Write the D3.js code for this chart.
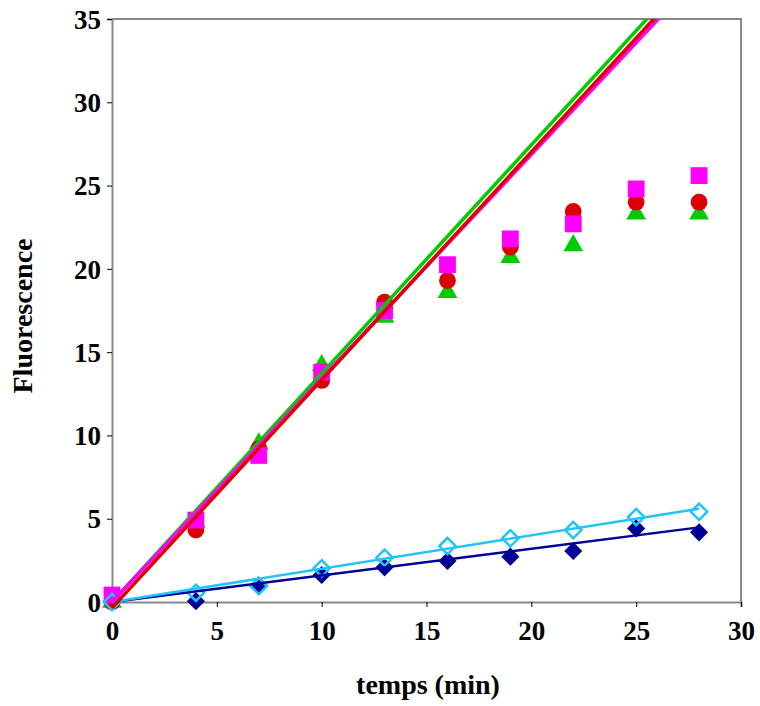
<!DOCTYPE html>
<html>
<head>
<meta charset="utf-8">
<script src="https://cdn.jsdelivr.net/npm/d3@7/dist/d3.min.js"></script>
<style>
  body { margin: 0; background: #fff; }
  svg { display: block; }
  .tick text { font-family: "Liberation Serif", "Times New Roman", serif; font-weight: bold; }
</style>
</head>
<body>
<svg width="760" height="706"></svg>
<script>
// time points (min)
const temps = [0, 4, 7, 10, 13, 16, 19, 22, 25, 28];

// fluorescence series
const darkDiamonds  = [0.05, 0.05, 1.0, 1.62, 2.08, 2.46, 2.72, 3.06, 4.42, 4.18];
const lightDiamonds = [0.0, 0.55, 0.95, 2.02, 2.66, 3.36, 3.82, 4.32, 5.1, 5.42];
const triangles     = [0.0, 4.8, 9.5, 14.2, 17.1, 18.6, 20.7, 21.4, 23.3, 23.3];
const circles       = [0.0, 4.32, 9.2, 13.3, 18.0, 19.3, 21.3, 23.45, 24.0, 24.0];
const squares       = [0.42, 4.92, 8.8, 13.8, 17.5, 20.25, 21.8, 22.7, 24.8, 25.6];

// fitted trend lines: [intercept, slope]
const fitDark    = [0, 0.16];
const fitLight   = [0, 0.2];
const fitGreen   = [0, 1.372];
const fitMagenta = [0, 1.343];
const fitRed     = [-0.35, 1.368];

const xTicks = [0, 5, 10, 15, 20, 25, 30];
const yTicks = [0, 5, 10, 15, 20, 25, 30, 35];

var svg = d3.select('svg');

var x = d3.scaleLinear().domain([0, 30]).range([112, 741]);
var y = d3.scaleLinear().domain([0, 35]).range([602, 19]);

// clip only the top of the plot, lines may dip a bit under the axis
svg.append("clipPath").attr("id", "plot")
    .append("rect")
    .attr("x", x(0) - 10).attr("y", y(35))
    .attr("width", x(30) - x(0) + 10).attr("height", y(0) - y(35) + 12);

// frame (top + right)
svg.append("path")
    .attr("d", `M${x(0)},${y(35)}H${x(30)}V${y(0)}`)
    .attr("fill", "none")
    .attr("stroke", "#888")
    .attr("stroke-width", 2);

var xAxis = svg.append("g")
    .attr("transform", `translate(0, ${y(0)})`)
    .call(d3.axisBottom(x).tickValues(xTicks).tickSize(5).tickPadding(14));
xAxis.selectAll(".tick text").style("font-size", "27px");

var yAxis = svg.append("g")
    .attr("transform", `translate(${x(0)}, 0)`)
    .call(d3.axisLeft(y).tickValues(yTicks).tickSize(5).tickPadding(6));
yAxis.selectAll(".tick text").style("font-size", "27px").attr("dy", "0.34em");

[xAxis, yAxis].forEach(g => {
    g.select(".domain").attr("stroke", "#888").attr("stroke-width", 2);
    g.selectAll(".tick line").attr("stroke", "#000");
});

svg.append("text")
    .attr("x", 428)
    .attr("y", 694)
    .attr("text-anchor", "middle")
    .style("font-family", "Liberation Serif, serif")
    .style("font-weight", "bold")
    .style("font-size", "28px")
    .text("temps (min)");

svg.append("text")
    .attr("transform", "translate(32, 316)rotate(-90)")
    .attr("text-anchor", "middle")
    .style("font-family", "Liberation Serif, serif")
    .style("font-weight", "bold")
    .style("font-size", "28px")
    .text("Fluorescence");

var markers = svg.append("g");
var marks = svg.append("g").attr("clip-path", "url(#plot)");

function pts(values) {
    return temps.map((t, i) => ({ t: t, v: values[i] }));
}

function symbols(values, type, size, fill, stroke) {
    markers.selectAll(null)
        .data(pts(values))
        .enter()
        .append("path")
        .attr("d", d3.symbol().type(type).size(size))
        .attr("transform", d => `translate(${x(d.t)}, ${y(d.v)})`)
        .attr("fill", fill)
        .attr("stroke", stroke || "none")
        .attr("stroke-width", stroke ? 2.5 : 0);
}

// markers
symbols(darkDiamonds, d3.symbolDiamond2, 210, "#000099");
symbols(triangles, d3.symbolTriangle2, 280, "#00cc00");
symbols(circles, d3.symbolCircle, 220, "#dd0000");
symbols(squares, d3.symbolSquare2, 360, "#ff00ff");
symbols(lightDiamonds, d3.symbolDiamond2, 170, "none", "#22c4f8");

function trend(fit, color, width) {
    var tEnd = Math.min(28, (35 - fit[0]) / fit[1] + 0.5);
    var lineFn = d3.line().x(d => x(d[0])).y(d => y(d[1]));
    marks.append("path")
        .datum([[0, fit[0]], [tEnd, fit[0] + fit[1] * tEnd]])
        .attr("d", lineFn)
        .attr("fill", "none")
        .attr("stroke", color)
        .attr("stroke-width", width);
}

trend(fitDark, "#000099", 2.5);
trend(fitLight, "#22c4f8", 2.5);
trend(fitGreen, "#00cc00", 3.5);
trend(fitMagenta, "#ff00ff", 3.5);
trend(fitRed, "#dd0000", 3.5);
</script>
</body>
</html>
